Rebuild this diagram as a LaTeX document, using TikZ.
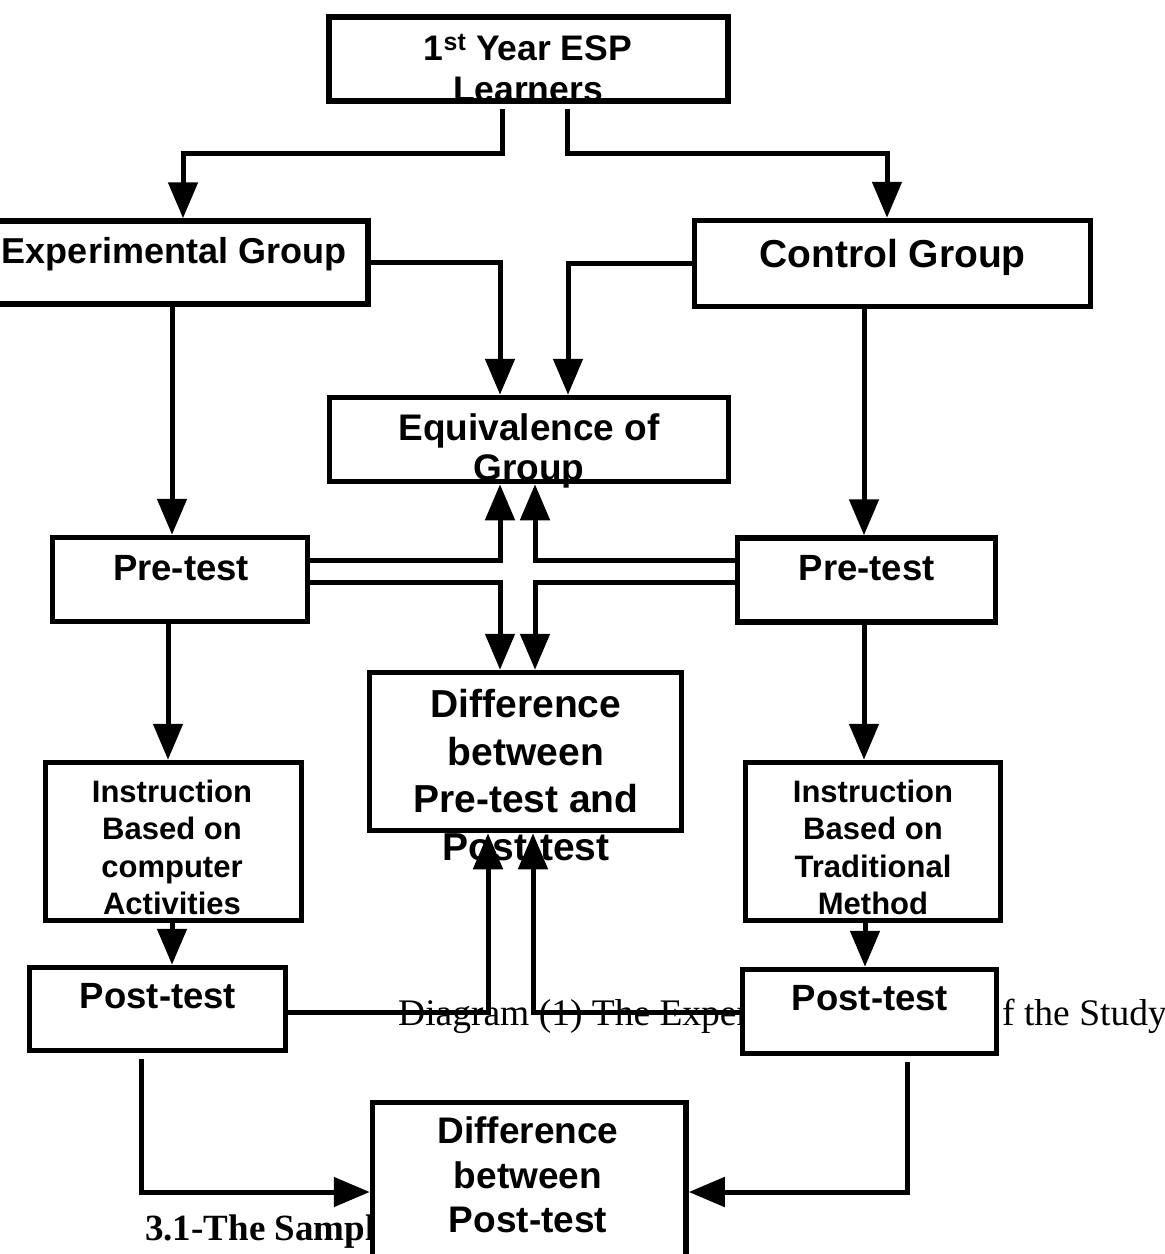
\documentclass[tikz,border=0pt]{standalone}
\usepackage{fontspec}
\setmainfont{Liberation Serif}
\setsansfont{Liberation Sans}
\usetikzlibrary{arrows.meta}
\newcommand{\fs}[1]{\fontsize{#1}{#1}\selectfont}
\begin{document}
\begin{tikzpicture}[x=1pt,y=-1pt,
  box/.style={draw, line width=5.5pt, fill=white, inner sep=0pt, rectangle},
  arr/.style={draw, line width=5pt, -{Triangle[length=36pt,width=29pt]}},
  lbl/.style={font=\sffamily\bfseries, inner sep=0pt, anchor=base},
  captxt/.style={font=\rmfamily, inner sep=0pt, anchor=base west}]
\useasboundingbox (0,0) rectangle (1165,1254);
\clip (0,0) rectangle (1165,1254);
\fill[white] (0,0) rectangle (1165,1254);

% caption texts (partly hidden behind boxes)
\node[captxt, font=\rmfamily\fs{37.5}] (capA) at (398,1025) {Diagram (1) The Exper};
\node[captxt, font=\rmfamily\fs{37.5}] (capB) at (1002,1025) {f the Study};
\node[captxt, font=\rmfamily\bfseries\fs{37}] (sec) at (145,1240) {3.1-The Sampl};

% boxes
\node[box, minimum width=399pt, minimum height=84pt] (top) at (528.5,59) {};
\node[box, minimum width=372pt, minimum height=83pt] (exp) at (182,262.5) {};
\node[box, minimum width=396pt, minimum height=86pt] (ctrl) at (892.5,263.5) {};
\node[box, minimum width=399pt, minimum height=84pt] (equiv) at (529,439.5) {};
\node[box, minimum width=255pt, minimum height=84pt] (preL) at (180,579.5) {};
\node[box, minimum width=258pt, minimum height=84pt] (preR) at (866.5,580) {};
\node[box, minimum width=312pt, minimum height=158pt] (diffPre) at (525.5,751.5) {};
\node[box, minimum width=256pt, minimum height=158pt] (instL) at (173.5,841.5) {};
\node[box, minimum width=255pt, minimum height=158pt] (instR) at (873,841.5) {};
\node[box, minimum width=256pt, minimum height=83pt] (postL) at (157.5,1009) {};
\node[box, minimum width=254pt, minimum height=84pt] (postR) at (869.5,1011.5) {};
\node[box, minimum width=313.5pt, minimum height=197.5pt] (diffPost) at (529.25,1201.25) {};

% helper coordinates
\coordinate (j1) at (502,153);
\coordinate (j2) at (183,153);
\coordinate (j3) at (567,153);
\coordinate (j4) at (887,153);
\coordinate (x500) at (500,0);
\coordinate (x568) at (568,0);
\coordinate (x535) at (535,0);
\coordinate (x172) at (172,0);
\coordinate (x864) at (864,0);
\coordinate (x168) at (168,0);
\coordinate (x865) at (865,0);
\coordinate (x488) at (488,0);
\coordinate (x533) at (533,0);
\coordinate (x141) at (141,0);
\coordinate (x907) at (907,0);
\coordinate (yU) at (0,560);
\coordinate (yD) at (0,582);
\coordinate (yP) at (0,1012);
\coordinate (yB) at (0,1192);

% connectors
\draw[arr] ([yshift=-5pt]top.south -| j1) -- (j1) -- (j2) -- (j2 |- exp.north);
\draw[arr] ([yshift=-5pt]top.south -| j3) -- (j3) -- (j4) -- (j4 |- ctrl.north);
\draw[arr] (exp.east) -| (x500 |- equiv.north);
\draw[arr] (ctrl.west) -| (x568 |- equiv.north);
\draw[arr] (exp.south -| x172) -- (preL.north -| x172);
\draw[arr] (ctrl.south -| x864) -- (preR.north -| x864);
\draw[arr] (preL.east |- yU) -| (x500 |- equiv.south);
\draw[arr] (preR.west |- yU) -| (x535 |- equiv.south);
\draw[arr] (preL.east |- yD) -| (x500 |- diffPre.north);
\draw[arr] (preR.west |- yD) -| (x535 |- diffPre.north);
\draw[arr] (preL.south -| x168) -- (instL.north -| x168);
\draw[arr] (preR.south -| x864) -- (instR.north -| x864);
\draw[arr] (instL.south -| x172) -- (postL.north -| x172);
\draw[arr] (instR.south -| x865) -- (postR.north -| x865);
\draw[arr] (postL.east |- yP) -| (x488 |- diffPre.south);
\draw[arr] (postR.west |- yP) -| (x533 |- diffPre.south);
\draw[arr] ([yshift=-6pt]postL.south -| x141) |- (diffPost.west |- yB);
\draw[arr] ([yshift=-6pt]postR.south -| x907) |- (diffPost.east |- yB);

% box texts
\node[lbl, font=\sffamily\bfseries\fs{35.5}] (tTop1) at (528,60) {1\textsuperscript{st} Year ESP};
\node[lbl, font=\sffamily\bfseries\fs{35.5}] (tTop2) at (528,101) {Learners};
\node[lbl, font=\sffamily\bfseries\fs{36}] (tExp) at (174,263) {Experimental Group};
\node[lbl, font=\sffamily\bfseries\fs{39}] (tCtrl) at (892.5,267) {Control Group};
\node[lbl, font=\sffamily\bfseries\fs{37}] (tEq1) at (529,440) {Equivalence of};
\node[lbl, font=\sffamily\bfseries\fs{37}] (tEq2) at (529,480) {Group};
\node[lbl, font=\sffamily\bfseries\fs{36.5}] (tPreL) at (181,580) {Pre-test};
\node[lbl, font=\sffamily\bfseries\fs{36.5}] (tPreR) at (866.7,580) {Pre-test};
\node[lbl, font=\sffamily\bfseries\fs{39}] (tDp1) at (526,717) {Difference};
\node[lbl, font=\sffamily\bfseries\fs{39}] (tDp2) at (526,765) {between};
\node[lbl, font=\sffamily\bfseries\fs{39}] (tDp3) at (526,812) {Pre-test and};
\node[lbl, font=\sffamily\bfseries\fs{39}] (tDp4) at (526,860) {Post-test};
\node[lbl, font=\sffamily\bfseries\fs{31}] (tIl1) at (172,802) {Instruction};
\node[lbl, font=\sffamily\bfseries\fs{31}] (tIl2) at (172,839) {Based on};
\node[lbl, font=\sffamily\bfseries\fs{31}] (tIl3) at (172,877) {computer};
\node[lbl, font=\sffamily\bfseries\fs{31}] (tIl4) at (172,914) {Activities};
\node[lbl, font=\sffamily\bfseries\fs{31}] (tIr1) at (873,802) {Instruction};
\node[lbl, font=\sffamily\bfseries\fs{31}] (tIr2) at (873,839) {Based on};
\node[lbl, font=\sffamily\bfseries\fs{31}] (tIr3) at (873,877) {Traditional};
\node[lbl, font=\sffamily\bfseries\fs{31}] (tIr4) at (873,914) {Method};
\node[lbl, font=\sffamily\bfseries\fs{36.5}] (tPoL) at (158,1008) {Post-test};
\node[lbl, font=\sffamily\bfseries\fs{36.5}] (tPoR) at (870,1010) {Post-test};
\node[lbl, font=\sffamily\bfseries\fs{37}] (tDq1) at (528,1143) {Difference};
\node[lbl, font=\sffamily\bfseries\fs{37}] (tDq2) at (528,1188) {between};
\node[lbl, font=\sffamily\bfseries\fs{37}] (tDq3) at (528,1232) {Post-test};
\end{tikzpicture}
\end{document}
